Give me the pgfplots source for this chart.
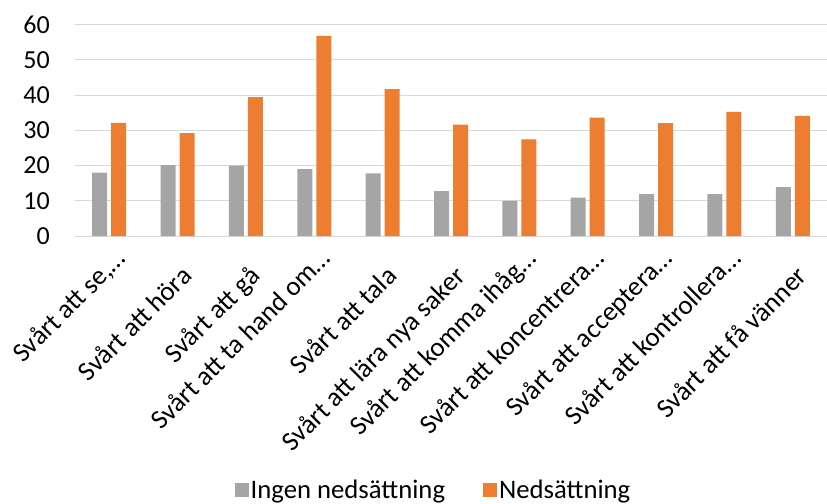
\documentclass[border=0pt]{standalone}
\usepackage{pgfplots}
\pgfplotsset{compat=1.18}
\usepackage{fontspec}
\setmainfont{Carlito}
\definecolor{cgray}{HTML}{A5A5A5}
\definecolor{corange}{HTML}{ED7D31}
\definecolor{cgrid}{HTML}{D9D9D9}
\newcommand{\full}[1]{\raisebox{-11bp}{#1}\hspace*{14bp}}
\begin{document}
\begin{tikzpicture}
\useasboundingbox (-75bp,-268bp) rectangle (752bp,236bp);
\begin{axis}[
  at={(0,0)}, anchor=south west,
  scale only axis, width=752bp, height=211.5bp,
  ymin=0, ymax=60, ytick={0,10,...,60},
  xmin=-0.5, xmax=10.5, xtick={0,...,10},
  xticklabels={{Svårt att se,…}, {\full{Svårt att höra}}, {\full{Svårt att gå}}, {Svårt att ta hand om…}, {\full{Svårt att tala}}, {\full{Svårt att lära nya saker}}, {Svårt att komma ihåg…}, {Svårt att koncentrera…}, {Svårt att acceptera…}, {Svårt att kontrollera…}, {\full{Svårt att få vänner}}},
  ybar=4bp, bar width=15bp,
  ymajorgrids, grid style={cgrid, line width=0.9bp},
  axis line style={draw=none},
  major tick length=0pt,
  yticklabel style={font=\fontsize{26bp}{30bp}\selectfont},
  /pgf/number format/assume math mode=true,
  yticklabel style={anchor=east, inner sep=0pt, xshift=-25bp},
  xticklabel style={font=\fontsize{27bp}{32bp}\selectfont, xshift=18bp, yshift=-24bp, rotate=45, anchor=base east, inner sep=0pt},
  legend style={at={(axis description cs:0.4767,-1.200)}, anchor=center, draw=none,
    font=\fontsize{26.7bp}{30bp}\selectfont, /tikz/every even column/.append style={column sep=36bp}},
  legend columns=2, legend cell align=left,
]
\addplot[fill=cgray, draw=none, legend image code/.code={\fill[cgray] (-4bp,-7bp) rectangle (10bp,7bp);}]
  coordinates {(0,18) (1,20.1) (2,20) (3,19) (4,17.8) (5,12.7) (6,10) (7,10.9) (8,11.9) (9,11.9) (10,13.9)};
\addplot[fill=corange, draw=none, legend image code/.code={\fill[corange] (-4bp,-7bp) rectangle (10bp,7bp);}]
  coordinates {(0,32.1) (1,29.2) (2,39.4) (3,56.8) (4,41.7) (5,31.6) (6,27.4) (7,33.6) (8,32) (9,35.2) (10,34.1)};
\legend{Ingen nedsättning, Nedsättning}
\end{axis}
\end{tikzpicture}
\end{document}
